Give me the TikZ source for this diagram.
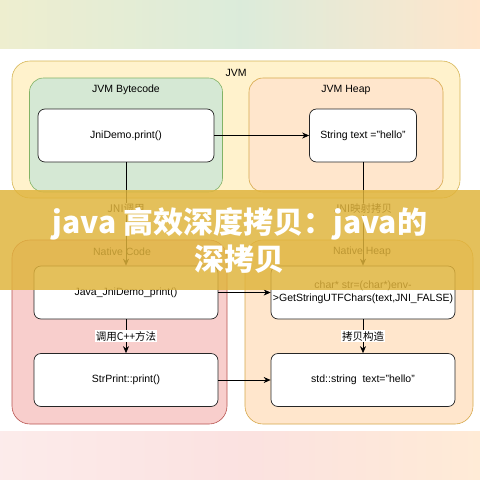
\documentclass[tikz,border=0pt]{standalone}
\usepackage{fontspec}
\setmainfont{Liberation Sans}
\newfontfamily\cjk{Noto Sans CJK SC}
\usetikzlibrary{arrows.meta}

\definecolor{JvmFill}{HTML}{FFF2CC}
\definecolor{JvmLine}{HTML}{D6B656}
\definecolor{GreenFill}{HTML}{D5E8D4}
\definecolor{GreenLine}{HTML}{82B366}
\definecolor{PeachFill}{HTML}{FFE6CC}
\definecolor{PeachLine}{HTML}{D7A84A}
\definecolor{RedFill}{HTML}{F8CECC}
\definecolor{RedLine}{HTML}{B85450}
\definecolor{BannerGold}{RGB}{224,180,60}

\begin{document}
\begin{tikzpicture}[x=1pt,y=-1pt]
\useasboundingbox (0,0) rectangle (480,480);
   \tikzset{GroupStyle/.style = {draw, rounded corners=18pt, line width=0.6pt, inner sep=0pt},
            TitleStyle/.style = {font=\fontsize{10.5}{12.5}\selectfont, inner sep=1pt},
            BoxStyle/.style = {draw=black!85, fill=white, rounded corners=7pt, line width=0.7pt,
                               align=center, inner sep=1pt, font=\fontsize{10.5}{12.5}\selectfont},
            EdgeStyle/.style = {draw=black, line width=0.7pt, -{Stealth[length=7pt,width=6pt]}},
            EdgeLabel/.style = {fill=white, inner sep=1pt, font=\cjk\fontsize{10.5}{12.5}\selectfont}}

%   blurred page bands
   \fill[white] (0,0) rectangle (480,480);
   \shade[left color=JvmFill!60!GreenFill, right color=PeachFill, middle color=GreenFill!85!white] (0,0) rectangle (480,48);
   \shade[left color=RedFill!40!white, right color=PeachFill!80!white, middle color=RedFill!60!white] (0,431) rectangle (480,480);

%   containers
   \node[GroupStyle, draw=JvmLine, fill=JvmFill, minimum width=448, minimum height=137] (jvm) at (236,129.5) {};
   \node[GroupStyle, draw=GreenLine, fill=GreenFill, minimum width=193, minimum height=114, rounded corners=14pt] (bytecode) at (126,135) {};
   \node[GroupStyle, draw=PeachLine, fill=PeachFill, minimum width=194, minimum height=114, rounded corners=14pt] (jvmheap) at (346,135) {};
   \node[GroupStyle, draw=RedLine, fill=RedFill, minimum width=215, minimum height=184] (nativecode) at (119.5,332) {};
   \node[GroupStyle, draw=PeachLine, fill=PeachFill, minimum width=228, minimum height=184] (nativeheap) at (359,332) {};

   \node[TitleStyle] (jvmT) at (236,73) {JVM};
   \node[TitleStyle] (bytecodeT) at (126,90) {JVM Bytecode};
   \node[TitleStyle] (jvmheapT) at (346,90) {JVM Heap};
   \node[TitleStyle] (nativecodeT) at (122,252) {Native Code};
   \node[TitleStyle] (nativeheapT) at (362,252) {Native Heap};

%   boxes
   \node[BoxStyle, minimum width=176, minimum height=53] (jnidemo) at (126,135.5) {JniDemo.print()};
   \node[BoxStyle, minimum width=107, minimum height=53] (str) at (363,135.5) {String text ="hello"};
   \node[BoxStyle, minimum width=184, minimum height=53] (javaprint) at (126,292.5) {Java\_JniDemo\_print()};
   \node[BoxStyle, minimum width=184, minimum height=53] (getchars) at (363,292.5) {char* str=(char*)env-\\>GetStringUTFChars(text,JNI\_FALSE)};
   \node[BoxStyle, minimum width=184, minimum height=53] (strprint) at (126,380) {StrPrint::print()};
   \node[BoxStyle, minimum width=184, minimum height=53] (stdstr) at (363,380) {std::string\ \ text="hello"};

%   edges
   \draw[EdgeStyle] (jnidemo) -- (str);
   \draw[EdgeStyle] (jnidemo) -- node[EdgeLabel, pos=0.45] {JNI调用} (javaprint);
   \draw[EdgeStyle] (str) -- node[EdgeLabel, pos=0.45] {JNI映射拷贝} (getchars);
   \draw[EdgeStyle] (javaprint) -- (getchars);
   \draw[EdgeStyle] (javaprint) -- node[EdgeLabel] {调用C++方法} (strprint);
   \draw[EdgeStyle] (getchars) -- node[EdgeLabel] {拷贝构造} (stdstr);
   \draw[EdgeStyle] (strprint) -- (stdstr);

%   title banner
   \fill[BannerGold, opacity=0.84] (0,190) rectangle (480,290);
   \node[text=white, align=center, font=\cjk\bfseries\fontsize{30}{37}\selectfont] (banner) at (240,240) {java 高效深度拷贝：java的\\深拷贝};
\end{tikzpicture}
\end{document}
